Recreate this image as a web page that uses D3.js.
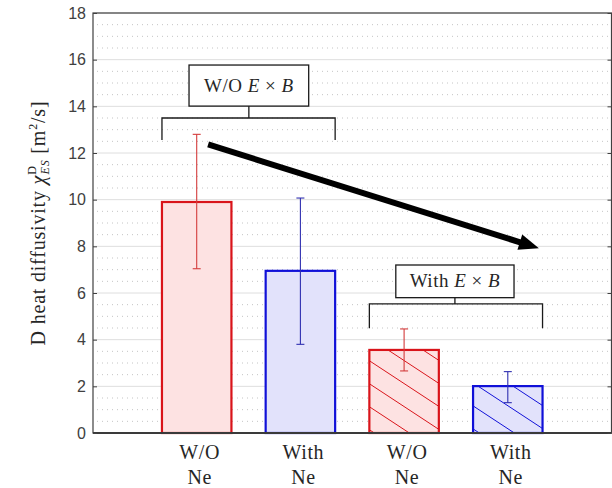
<!DOCTYPE html>
<html>
<head>
<meta charset="utf-8">
<script src="https://cdn.jsdelivr.net/npm/d3@7"></script>
<style>
  html, body { margin: 0; padding: 0; background: #fff; }
  svg { display: block; }
</style>
</head>
<body>
<svg id="chart" width="612" height="488"></svg>
<script>
// ---- data ----
const labelLine1 = ["W/O", "With", "W/O", "With"];
const labelLine2 = ["Ne", "Ne", "Ne", "Ne"];
const values     = [9.9, 6.95, 3.56, 2.01];
const errLow     = [7.04, 3.8, 2.66, 1.3];
const errHigh    = [12.8, 10.07, 4.46, 2.63];
const neon       = [false, true, false, true];   // colour group
const exb        = [false, false, true, true];   // hatched group
const yTicks     = [0, 2, 4, 6, 8, 10, 12, 14, 16, 18];
const groupLabels = ["W/O", "With"];

// ---- layout ----
const W = 612, H = 488;
const m = { left: 93, right: 611.5, top: 13, bottom: 433 };
const svg = d3.select("#chart");
const x = d3.scaleLinear().domain([0, 5]).range([m.left, m.right]);
const y = d3.scaleLinear().domain([0, 18]).range([m.bottom, m.top]);
const barW = 0.67;

const col = {
  red: "#d9141a", redFill: "#fde2e2", redErr: "#d43c3c",
  blue: "#1010d8", blueFill: "#e2e2fb", blueErr: "#2f2fb0",
  text: "#262626", axis: "#404040"
};

const defs = svg.append("defs");
function hatch(id, color) {
  const p = defs.append("pattern").attr("id", id)
    .attr("patternUnits", "userSpaceOnUse")
    .attr("x", 0).attr("y", 3).attr("width", 35).attr("height", 23);
  p.append("path").attr("d", "M-35,-23 L70,46 M0,-23 L70,23 M-35,0 L35,46")
    .attr("stroke", color).attr("stroke-width", 1).attr("fill", "none");
}
hatch("hatchRed", col.red);
hatch("hatchBlue", col.blue);

// ---- grid ----
const minor = d3.range(0, 18.01, 0.5).filter(v => Math.abs(v % 2) > 1e-6);
svg.append("g").selectAll("line").data(minor).join("line")
  .attr("x1", m.left + 4).attr("x2", m.right - 2)
  .attr("y1", d => y(d)).attr("y2", d => y(d))
  .attr("stroke", "#c4c4c4").attr("stroke-width", 1)
  .attr("stroke-dasharray", "1,4");
svg.append("g").selectAll("line").data(yTicks).join("line")
  .attr("x1", m.left).attr("x2", m.right)
  .attr("y1", d => y(d)).attr("y2", d => y(d))
  .attr("stroke", "#dedede").attr("stroke-width", 1);

// ---- bars ----
const idx = d3.range(values.length);
const bars = svg.append("g");
bars.selectAll("rect.fill").data(idx).join("rect")
  .attr("x", i => x(i + 1 - barW / 2)).attr("width", x(barW) - x(0))
  .attr("y", i => y(values[i])).attr("height", i => y(0) - y(values[i]))
  .attr("fill", i => neon[i] ? col.blueFill : col.redFill);
bars.selectAll("rect.hatch").data(idx.filter(i => exb[i])).join("rect")
  .attr("x", i => x(i + 1 - barW / 2)).attr("width", x(barW) - x(0))
  .attr("y", i => y(values[i])).attr("height", i => y(0) - y(values[i]))
  .attr("fill", i => neon[i] ? "url(#hatchBlue)" : "url(#hatchRed)");
bars.selectAll("rect.edge").data(idx).join("rect")
  .attr("x", i => x(i + 1 - barW / 2)).attr("width", x(barW) - x(0))
  .attr("y", i => y(values[i])).attr("height", i => y(0) - y(values[i]))
  .attr("fill", "none")
  .attr("stroke", i => neon[i] ? col.blue : col.red)
  .attr("stroke-width", 2.2);

// ---- error bars ----
const eb = svg.append("g");
idx.forEach(i => {
  const c = neon[i] ? col.blueErr : col.redErr;
  const cx = x(i + 1);
  eb.append("line").attr("x1", cx).attr("x2", cx)
    .attr("y1", y(errLow[i])).attr("y2", y(errHigh[i]))
    .attr("stroke", c).attr("stroke-width", 1.1);
  [errLow[i], errHigh[i]].forEach(v => {
    eb.append("line").attr("x1", cx - 4).attr("x2", cx + 4)
      .attr("y1", y(v)).attr("y2", y(v))
      .attr("stroke", c).attr("stroke-width", 1.1);
  });
});

// ---- axes box ----
const ax = svg.append("g");
ax.append("rect").attr("x", m.left).attr("y", m.top)
  .attr("width", m.right - m.left).attr("height", m.bottom - m.top)
  .attr("fill", "none").attr("stroke", col.axis).attr("stroke-width", 1.2);
ax.append("line").attr("x1", m.left).attr("x2", m.right)
  .attr("y1", m.bottom).attr("y2", m.bottom)
  .attr("stroke", "#3a3a3a").attr("stroke-width", 1.8);
const yAxisL = d3.axisLeft(y).tickValues(yTicks).tickSize(-4).tickPadding(7);
const gL = ax.append("g").attr("transform", `translate(${m.left},0)`).call(yAxisL);
gL.select(".domain").remove();
gL.selectAll("line").attr("stroke", col.axis);
gL.selectAll("text").attr("font-family", "'Liberation Sans', Arial, sans-serif")
  .attr("font-size", 16).attr("fill", "#404040");
const yAxisR = d3.axisRight(y).tickValues(yTicks).tickSize(-4).tickFormat("");
const gR = ax.append("g").attr("transform", `translate(${m.right},0)`).call(yAxisR);
gR.select(".domain").remove();
gR.selectAll("line").attr("stroke", col.axis);

// ---- x labels ----
const serif = "'Liberation Serif', 'Times New Roman', serif";
const xl = svg.append("g").attr("font-family", serif).attr("font-size", 20)
  .attr("letter-spacing", 0.6)
  .attr("fill", col.text).attr("text-anchor", "middle");
idx.forEach(i => {
  xl.append("text").attr("x", x(i + 1) + 3).attr("y", 459).text(labelLine1[i]);
  xl.append("text").attr("x", x(i + 1) + 3).attr("y", 484).text(labelLine2[i]);
});

// ---- y label ----
const yl = svg.append("text")
  .attr("transform", `translate(45,${(m.top + m.bottom) / 2}) rotate(-90)`)
  .attr("text-anchor", "middle").attr("font-family", serif)
  .attr("font-size", 20).attr("letter-spacing", 0.8).attr("fill", col.text);
yl.append("tspan").text("D heat diffusivity ");
yl.append("tspan").attr("font-style", "italic").text("χ");
yl.append("tspan").attr("font-size", 12).attr("dy", -9).text("D");
yl.append("tspan").attr("font-size", 12).attr("font-style", "italic").attr("dx", -9).attr("dy", 13).text("ES");
yl.append("tspan").attr("dy", -4).text(" [m");
yl.append("tspan").attr("font-size", 12).attr("dy", -8).text("2");
yl.append("tspan").attr("dy", 8).text("/s]");

// ---- group annotations ----
const groups = [
  { text: groupLabels[0], first: 0, box: [0.926, 2.08, 14.01, 15.77], bracketY: 13.5, legY: 12.56 },
  { text: groupLabels[1], first: 2, box: [2.92, 4.06, 5.8, 7.2], bracketY: 5.53, legY: 4.49 }
];
const an = svg.append("g");
groups.forEach(g => {
  const x0 = x(g.first + 1 - barW / 2), x1 = x(g.first + 2 + barW / 2);
  const bx0 = x(g.box[0]), bx1 = x(g.box[1]), by0 = y(g.box[3]), by1 = y(g.box[2]);
  const mid = (bx0 + bx1) / 2;
  an.append("path")
    .attr("d", `M${x0},${y(g.legY)}V${y(g.bracketY)}H${x1}V${y(g.legY)}M${mid},${y(g.bracketY)}V${by1}`)
    .attr("fill", "none").attr("stroke", "#1a1a1a").attr("stroke-width", 1.3);
  an.append("rect").attr("x", bx0).attr("y", by0).attr("width", bx1 - bx0).attr("height", by1 - by0)
    .attr("fill", "#fff").attr("stroke", "#1a1a1a").attr("stroke-width", 1.3);
  const t = an.append("text").attr("x", mid).attr("y", (by0 + by1) / 2 + 6)
    .attr("text-anchor", "middle").attr("font-family", serif).attr("font-size", 19)
    .attr("letter-spacing", 0.5).attr("fill", col.text);
  t.append("tspan").text(g.text + " ");
  t.append("tspan").attr("font-style", "italic").text("E");
  t.append("tspan").text(" × ");
  t.append("tspan").attr("font-style", "italic").text("B");
});

// ---- arrow ----
const arrowFrom = [1.11, 12.37], arrowTo = [4.30, 7.92];
const ax0 = x(arrowFrom[0]), ay0 = y(arrowFrom[1]), ax1 = x(arrowTo[0]), ay1 = y(arrowTo[1]);
const ang = Math.atan2(ay1 - ay0, ax1 - ax0);
const headL = 20, headW = 8;
const bxh = ax1 - headL * Math.cos(ang), byh = ay1 - headL * Math.sin(ang);
svg.append("line").attr("x1", ax0).attr("y1", ay0).attr("x2", bxh + 2 * Math.cos(ang)).attr("y2", byh + 2 * Math.sin(ang))
  .attr("stroke", "#000").attr("stroke-width", 6);
svg.append("path")
  .attr("d", `M${ax1},${ay1}L${bxh - headW * Math.sin(ang)},${byh + headW * Math.cos(ang)}L${bxh + headW * Math.sin(ang)},${byh - headW * Math.cos(ang)}Z`)
  .attr("fill", "#000");
</script>
</body>
</html>
